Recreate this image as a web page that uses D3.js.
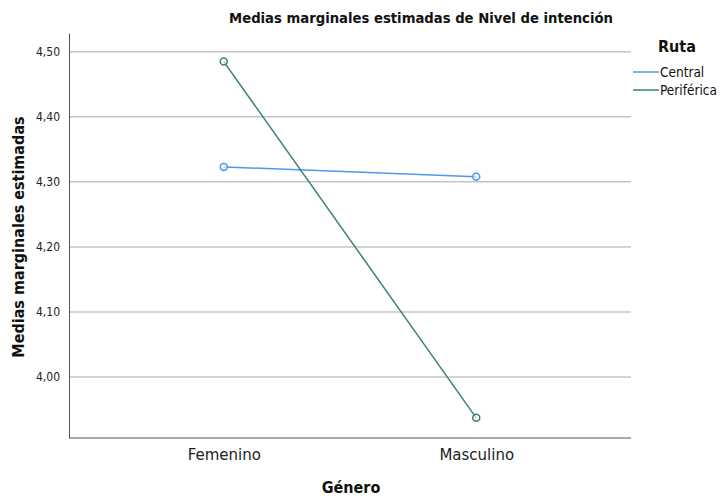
<!DOCTYPE html>
<html><head><meta charset="utf-8">
<script src="https://cdn.jsdelivr.net/npm/d3@7"></script>
<style>body{margin:0;background:#fff;} text{font-family:"DejaVu Sans Condensed","Liberation Sans Narrow","Open Sans",sans-serif;}</style>
</head><body><svg id="c" width="720" height="498"></svg>
<script>
const categories = ["Femenino", "Masculino"];
const seriesNames = ["Central", "Periférica"];
const central = [4.323, 4.308];
const periferica = [4.485, 3.937];
const yTicks = [4.00, 4.10, 4.20, 4.30, 4.40, 4.50];
const colors = ["#4b9ae8", "#3a7f7e"];

(function () {
const svg = d3.select("#c");
const pL = 69, pR = 631, pT = 33, pB = 438;
const x = d3.scalePoint().domain(categories).range([pL, pR]).padding(0.613);
const y = d3.scaleLinear().domain([3.906, 4.529]).range([pB, pT]);

// gridlines
svg.append("g").selectAll("line").data(yTicks).join("line")
  .attr("x1", pL).attr("x2", pR).attr("y1", d => y(d)).attr("y2", d => y(d))
  .attr("stroke", "#c4c4c4").attr("stroke-width", 1.5);

// y axis
const ya = svg.append("g").attr("transform", `translate(${pL},0)`)
  .call(d3.axisLeft(y).tickValues(yTicks).tickSize(0).tickPadding(9)
    .tickFormat(d => d3.format(".2f")(d).replace(".", ",")));
ya.select(".domain").attr("stroke", "#555").attr("stroke-width", 1);
ya.selectAll("text").attr("font-size", 12).attr("fill", "#222");

// x axis
const xa = svg.append("g").attr("transform", `translate(0,${pB})`)
  .call(d3.axisBottom(x).tickSize(0).tickPadding(11));
xa.select(".domain").attr("stroke", "#555").attr("stroke-width", 1)
  .attr("d", `M${pL},0H${pR}`);
xa.selectAll("text").attr("font-size", 15).attr("fill", "#222")
  .style("font-family", "'DejaVu Sans', sans-serif");

// lines
const data = [central, periferica];
const line = d3.line().x((d, i) => x(categories[i])).y(d => y(d));
data.forEach((vals, k) => {
  svg.append("path").datum(vals).attr("d", line).attr("fill", "none")
    .attr("stroke", colors[k]).attr("stroke-width", 1.5);
  svg.append("g").selectAll("circle").data(vals).join("circle")
    .attr("cx", (d, i) => x(categories[i])).attr("cy", d => y(d)).attr("r", 3.5)
    .attr("fill", "#fff").attr("fill-opacity", 0.6).attr("stroke", colors[k]).attr("stroke-width", 1.5);
});

// title
svg.append("text").attr("x", 421).attr("y", 23).attr("text-anchor", "middle")
  .attr("font-size", 14.7).attr("font-weight", "bold").attr("fill", "#111")
  .text("Medias marginales estimadas de Nivel de intención");

// axis titles
svg.append("text").attr("x", 351).attr("y", 493).attr("text-anchor", "middle")
  .attr("font-size", 16).attr("font-weight", "bold").attr("fill", "#111").text("Género");
svg.append("text").attr("transform", "translate(24,237) rotate(-90)").attr("text-anchor", "middle")
  .attr("font-size", 16).attr("font-weight", "bold").attr("fill", "#111").text("Medias marginales estimadas");

// legend
svg.append("text").attr("x", 658).attr("y", 52).attr("font-size", 16).attr("font-weight", "bold")
  .attr("fill", "#111").text("Ruta");
seriesNames.forEach((n, k) => {
  const ly = 72 + k * 18;
  svg.append("line").attr("x1", 633).attr("x2", 659).attr("y1", ly).attr("y2", ly)
    .attr("stroke", colors[k]).attr("stroke-width", 1.5);
  svg.append("text").attr("x", 660).attr("y", ly + 5).attr("font-size", 13.5).attr("fill", "#111").text(n);
});
})();
</script></body></html>
